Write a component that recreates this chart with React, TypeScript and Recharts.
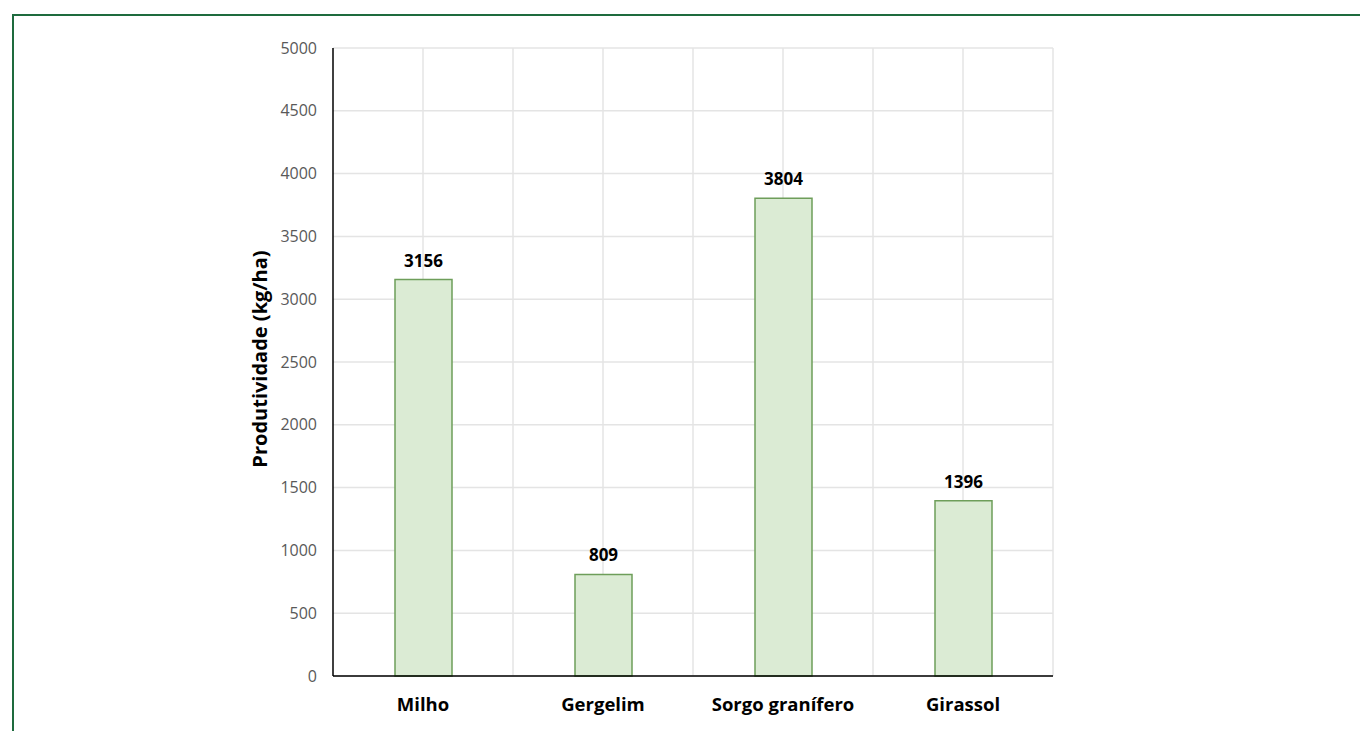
import React from 'react';
import {
  BarChart,
  Bar,
  XAxis,
  YAxis,
  CartesianGrid,
  LabelList,
} from 'recharts';

const culturas = ['Milho', 'Gergelim', 'Sorgo granífero', 'Girassol'];
const produtividade = [3156, 809, 3804, 1396];
const yTicks = [0, 500, 1000, 1500, 2000, 2500, 3000, 3500, 4000, 4500, 5000];

const data = culturas.map((cultura, i) => ({ cultura, valor: produtividade[i] }));

const FONT = '"Open Sans", Lato, sans-serif';

// vertical grid at every category centre and boundary (half-category steps)
const halfSteps = ({ offset }: any) => {
  const steps = culturas.length * 2;
  const pts: number[] = [];
  for (let i = 1; i <= steps; i++) {
    pts.push(offset.left + (offset.width * i) / steps);
  }
  return pts;
};

export default function App() {
  return (
    <div style={{ position: 'absolute', left: 0, top: 0, width: 1360, height: 731, overflow: 'hidden', background: '#fff' }}>
      <div
        style={{
          position: 'absolute',
          left: 12,
          top: 14,
          width: 1400,
          height: 760,
          border: '2px solid #1e6b3e',
          boxSizing: 'border-box',
        }}
      />
      <div style={{ position: 'absolute', left: 0, top: 0 }}>
        <BarChart
          width={1360}
          height={731}
          data={data}
          margin={{ top: 48, right: 307, left: 253, bottom: 15 }}
        >
          <CartesianGrid
            stroke="#e4e4e4"
            strokeWidth={1.5}
            verticalCoordinatesGenerator={halfSteps}
          />
          <XAxis
            dataKey="cultura"
            height={40}
            axisLine={{ stroke: '#000', strokeWidth: 1.5 }}
            tickLine={false}
            tickSize={0}
            tickMargin={22}
            tick={{ fill: '#000', fontSize: 18.5, fontWeight: 700, fontFamily: FONT }}
          />
          <YAxis
            width={80}
            domain={[0, 5000]}
            ticks={yTicks}
            interval={0}
            axisLine={{ stroke: '#000', strokeWidth: 1.5 }}
            tickLine={false}
            tickSize={0}
            tickMargin={16}
            tick={{ fill: '#595959', fontSize: 16, fontFamily: FONT }}
            label={{
              value: 'Produtividade (kg/ha)',
              angle: -90,
              position: 'center',
              dx: -33,
              dy: -3,
              style: { fill: '#000', fontSize: 20, fontWeight: 700, fontFamily: FONT, textAnchor: 'middle' },
            }}
          />
          <Bar
            dataKey="valor"
            barSize={57}
            fill="#dbebd4"
            stroke="#6e9e5a"
            strokeWidth={1.5}
            isAnimationActive={false}
          >
            <LabelList
              dataKey="valor"
              position="top"
              offset={13}
              style={{ fill: '#000', fontSize: 17, fontWeight: 700, fontFamily: FONT }}
            />
          </Bar>
        </BarChart>
      </div>
    </div>
  );
}
